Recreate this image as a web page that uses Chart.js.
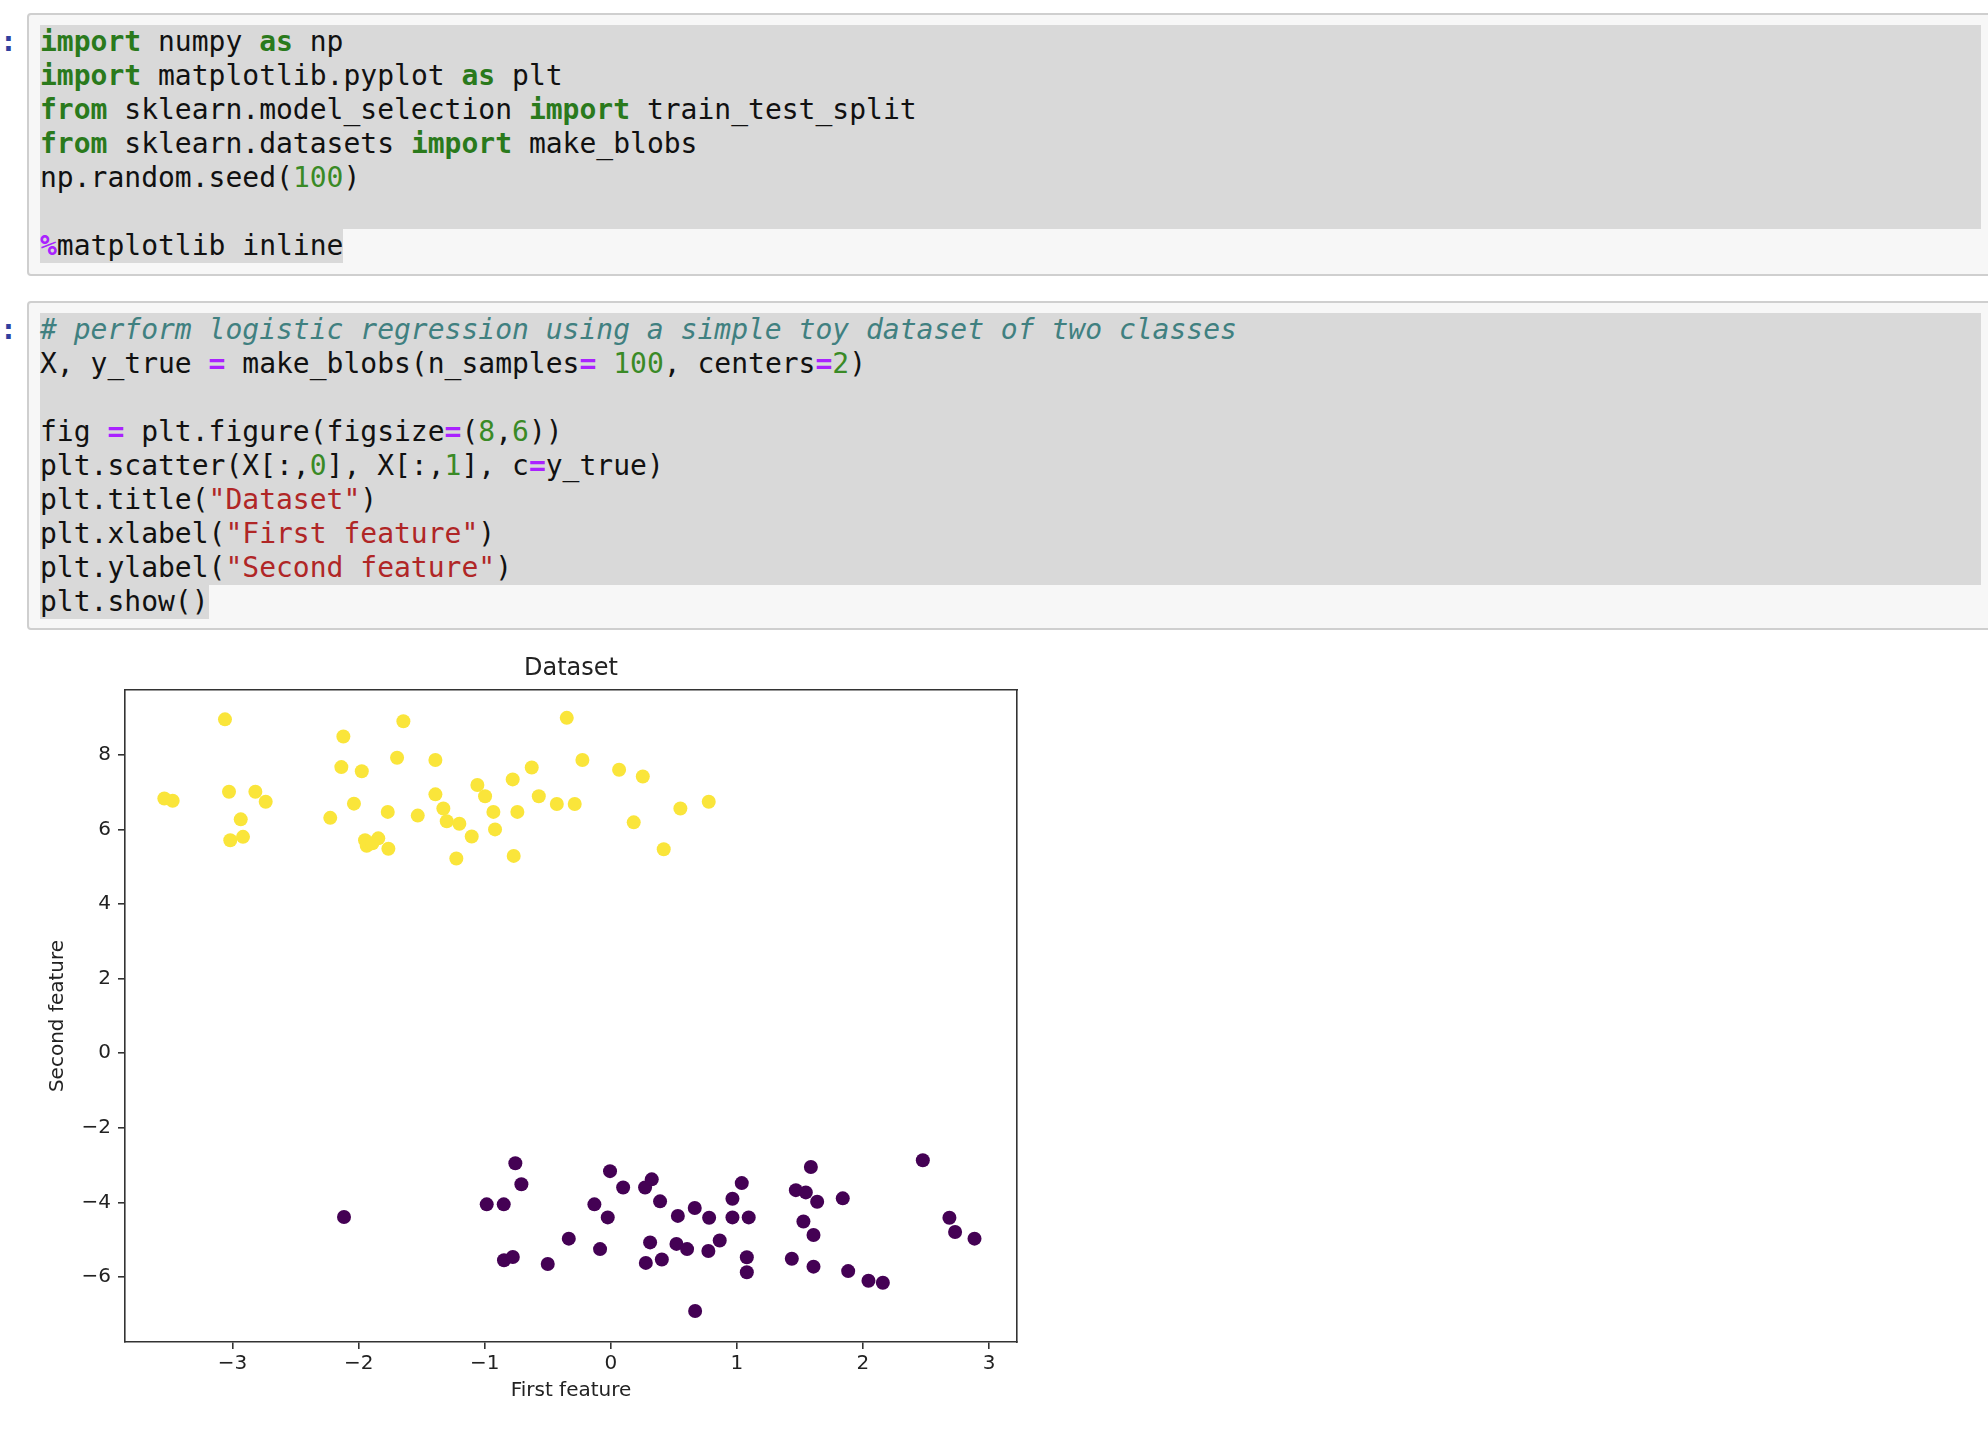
<!DOCTYPE html>
<html>
<head>
<meta charset="utf-8">
<script src="https://cdn.jsdelivr.net/npm/chart.js@4/dist/chart.umd.min.js"></script>
<style>
  html, body { margin: 0; padding: 0; background: #ffffff; }
  body { width: 1988px; height: 1432px; position: relative; overflow: hidden; }
  .prompt { position: absolute; left: 0; font-family: 'DejaVu Sans Mono', monospace; font-size: 28px; line-height: 34px; color: #303F9F; font-weight: bold; }
  .cell { position: absolute; left: 27px; width: 2000px; background: #f7f7f7; border: 2px solid #cfcfcf; border-radius: 4px; box-sizing: border-box; }
  .sel { position: absolute; left: 40px; width: 1941px; background: #d9d9d9; }
  .line { position: absolute; left: 40px; font-family: 'DejaVu Sans Mono', monospace; font-size: 28px; line-height: 34px; height: 34px; white-space: pre; color: #111; }
  .hl { background: #d9d9d9; display: inline-block; height: 34px; }
  .kw { color: #2a7a1c; font-weight: bold; }
  .num { color: #3a8a26; }
  .op { color: #AA22FF; font-weight: bold; }
  .str { color: #B02626; }
  .cm { color: #408080; font-style: italic; }
  #chartBox { position: absolute; left: 0; top: 630px; width: 1100px; height: 777px; }
</style>
</head>
<body>
<!-- Cell 1 -->
<div class="cell" style="top:13px;height:263px;"></div>
<div class="sel" style="top:25px;height:204px;"></div>
<div class="prompt" style="top:25px;">:</div>
<div class="line" style="top:25px;"><span class="kw">import</span> numpy <span class="kw">as</span> np</div>
<div class="line" style="top:59px;"><span class="kw">import</span> matplotlib.pyplot <span class="kw">as</span> plt</div>
<div class="line" style="top:93px;"><span class="kw">from</span> sklearn.model_selection <span class="kw">import</span> train_test_split</div>
<div class="line" style="top:127px;"><span class="kw">from</span> sklearn.datasets <span class="kw">import</span> make_blobs</div>
<div class="line" style="top:161px;">np.random.seed(<span class="num">100</span>)</div>
<div class="line" style="top:229px;"><span class="hl"><span class="op">%</span>matplotlib inline</span></div>

<!-- Cell 2 -->
<div class="cell" style="top:301px;height:329px;"></div>
<div class="sel" style="top:313px;height:272px;"></div>
<div class="prompt" style="top:313px;">:</div>
<div class="line" style="top:313px;"><span class="cm"># perform logistic regression using a simple toy dataset of two classes</span></div>
<div class="line" style="top:347px;">X, y_true <span class="op">=</span> make_blobs(n_samples<span class="op">=</span> <span class="num">100</span>, centers<span class="op">=</span><span class="num">2</span>)</div>
<div class="line" style="top:415px;">fig <span class="op">=</span> plt.figure(figsize<span class="op">=</span>(<span class="num">8</span>,<span class="num">6</span>))</div>
<div class="line" style="top:449px;">plt.scatter(X[:,<span class="num">0</span>], X[:,<span class="num">1</span>], c<span class="op">=</span>y_true)</div>
<div class="line" style="top:483px;">plt.title(<span class="str">"Dataset"</span>)</div>
<div class="line" style="top:517px;">plt.xlabel(<span class="str">"First feature"</span>)</div>
<div class="line" style="top:551px;">plt.ylabel(<span class="str">"Second feature"</span>)</div>
<div class="line" style="top:585px;"><span class="hl">plt.show()</span></div>

<div id="chartBox"><canvas id="chart" width="1100" height="777"></canvas></div>

<script>
// ---- data ----
const chartTitle = "Dataset";
const xLabel = "First feature";
const yLabel = "Second feature";

// class 1 (yellow)
const yellowX = [-3.060,-3.541,-3.475,-3.028,-2.819,-2.737,-2.935,-3.018,-2.917,-2.121,-2.137,-1.975,-1.645,-1.695,-1.391,-2.225,-2.037,-1.769,-1.531,-1.391,-1.328,-1.301,-1.201,-1.103,-1.225,-1.949,-1.936,-1.844,-1.891,-1.764,-1.058,-0.997,-0.931,-0.918,-0.778,-0.627,-0.741,-0.571,-0.770,-0.428,-0.286,-0.349,-0.225,0.066,0.254,0.182,0.552,0.777,0.420];
const yellowY = [8.95,6.83,6.77,7.01,7.01,6.74,6.27,5.71,5.80,8.49,7.67,7.56,8.90,7.92,7.86,6.31,6.69,6.47,6.37,6.94,6.56,6.22,6.15,5.81,5.22,5.71,5.56,5.76,5.63,5.48,7.19,6.89,6.47,6.00,7.34,7.66,6.47,6.89,5.29,6.68,6.68,8.99,7.86,7.60,7.42,6.19,6.56,6.74,5.47];

// class 0 (purple)
const purpleX = [-2.116,-0.757,-0.709,-0.984,-0.849,-0.847,-0.777,-0.500,-0.333,-0.006,0.098,-0.130,-0.024,-0.085,0.272,0.325,0.391,0.312,0.278,0.405,0.532,0.666,0.780,1.039,0.965,0.965,1.094,0.521,0.605,0.774,0.864,1.079,1.079,0.669,1.587,1.468,1.547,1.637,1.840,1.528,1.608,1.436,1.608,1.883,2.044,2.158,2.475,2.686,2.731,2.885];
const purpleY = [-4.39,-2.95,-3.51,-4.05,-4.05,-5.55,-5.46,-5.65,-4.97,-3.16,-3.60,-4.05,-4.40,-5.25,-3.60,-3.38,-3.97,-5.07,-5.62,-5.53,-4.36,-4.15,-4.41,-3.48,-3.90,-4.40,-4.40,-5.11,-5.25,-5.30,-5.02,-5.47,-5.87,-6.91,-3.05,-3.67,-3.73,-3.98,-3.89,-4.51,-4.87,-5.51,-5.72,-5.84,-6.10,-6.15,-2.87,-4.41,-4.79,-4.97];

const xTicks = [-3,-2,-1,0,1,2,3];
const yTicks = [-6,-4,-2,0,2,4,6,8];
const xLimits = [-3.853, 3.222];
const yLimits = [-7.74, 9.737];

// ---- chart ----
const toPoints = (xs, ys) => xs.map((x, i) => ({x: x, y: ys[i]}));
const fmt = v => (v < 0 ? '\u2212' + Math.abs(v) : String(v));
const textColor = '#222222';
const axisColor = '#333333';
const tickFont = {family: 'DejaVu Sans', size: 20};

new Chart(document.getElementById('chart'), {
  type: 'scatter',
  data: {
    datasets: [
      {data: toPoints(purpleX, purpleY), backgroundColor: '#440154', borderWidth: 0, pointRadius: 7, pointHoverRadius: 7},
      {data: toPoints(yellowX, yellowY), backgroundColor: '#fae53a', borderWidth: 0, pointRadius: 7, pointHoverRadius: 7}
    ]
  },
  options: {
    responsive: false,
    animation: false,
    devicePixelRatio: 1,
    layout: {padding: {left: 0, top: 0, bottom: 0, right: 83}},
    plugins: {legend: {display: false}, tooltip: {enabled: false}, title: {display: false}},
    scales: {
      x: {
        type: 'linear', position: 'bottom', min: xLimits[0], max: xLimits[1],
        afterBuildTicks: s => { s.ticks = xTicks.map(v => ({value: v})); },
        afterFit: s => { s.height = 65; },
        ticks: {font: tickFont, color: textColor, padding: 3, maxRotation: 0, autoSkip: false, callback: fmt},
        grid: {display: true, drawOnChartArea: false, drawTicks: true, tickLength: 7, color: axisColor, lineWidth: 1.6},
        border: {display: true, color: axisColor, width: 1.6},
        title: {display: true, text: xLabel, font: tickFont, color: textColor, padding: {top: 0, bottom: 4}}
      },
      y: {
        type: 'linear', position: 'left', min: yLimits[0], max: yLimits[1],
        afterBuildTicks: s => { s.ticks = yTicks.map(v => ({value: v})); },
        afterFit: s => { s.width = 125; },
        ticks: {font: tickFont, color: textColor, padding: 7, autoSkip: false, callback: fmt},
        grid: {display: true, drawOnChartArea: false, drawTicks: true, tickLength: 7, color: axisColor, lineWidth: 1.6},
        border: {display: true, color: axisColor, width: 1.6},
        title: {display: true, text: yLabel, font: tickFont, color: textColor, padding: {top: 46, bottom: 0}}
      },
      x2: {
        type: 'linear', axis: 'x', position: 'top', min: 0, max: 1,
        afterFit: s => { s.height = 60; },
        ticks: {display: false},
        grid: {display: false},
        border: {display: true, color: axisColor, width: 1.6},
        title: {display: true, text: chartTitle, font: {family: 'DejaVu Sans', size: 24}, color: textColor, padding: {top: 24, bottom: 0}}
      },
      y2: {
        type: 'linear', axis: 'y', position: 'right', min: 0, max: 1,
        afterFit: s => { s.width = 0; },
        ticks: {display: false},
        grid: {display: false},
        border: {display: true, color: axisColor, width: 1.6}
      }
    }
  }
});
</script>
</body>
</html>
